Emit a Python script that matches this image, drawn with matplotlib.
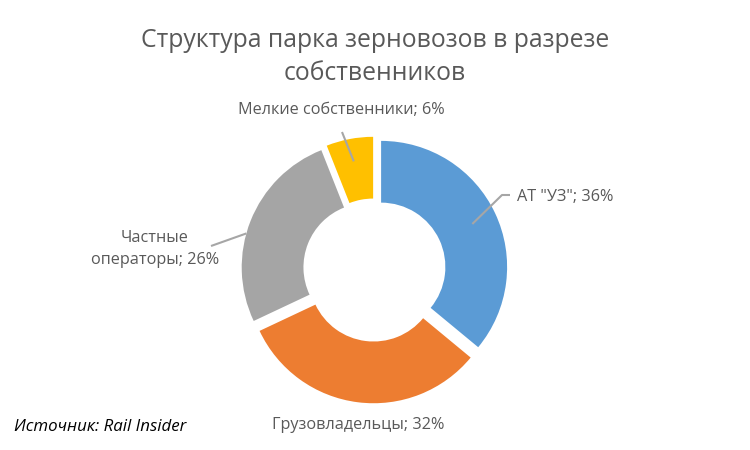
import matplotlib
matplotlib.use("Agg")
import matplotlib.pyplot as plt
import numpy as np

plt.rcParams['font.family'] = ['Open Sans', 'DejaVu Sans']

categories = ['АТ "УЗ"', 'Грузовладельцы', 'Частные\nоператоры', 'Мелкие собственники']
values = [36, 32, 26, 6]
colors = ['#5B9BD5', '#ED7D31', '#A5A5A5', '#FFC000']
title = 'Структура парка зерновозов в разрезе\nсобственников'
source = 'Источник: Rail Insider'

W, H = 750, 450
fig = plt.figure(figsize=(7.5, 4.5), dpi=100)
ax = fig.add_axes([0, 0, 1, 1])

cx, cy, R = 374.5, 180, 126
gap = 7.3
wedges, _ = ax.pie(values, colors=colors, startangle=90, counterclock=False,
                   radius=R, center=(cx, cy), explode=[gap] * len(values),
                   wedgeprops=dict(width=R * 0.49, linewidth=0),
                   frame=True)
ax.set_xlim(0, W)
ax.set_ylim(0, H)
ax.set_aspect('equal')
ax.axis('off')

text_col = '#595959'
line_col = '#A6A6A6'

# label layout: (label x, label y, ha, leader points, radius factor, angle offset)
layout = [
    (517, 253, 'left', [(510, 255), (502, 255)], 0.80, 0),
    (358, 25, 'center', None, None, 0),
    (155, 201, 'center', [(211, 204)], 1.0, 6),
    (341, 340, 'center', [(342, 318)], 0.82, 0),
]

for w, cat, v, lay in zip(wedges, categories, values, layout):
    lx, ly, ha, pts, rf, aoff = lay
    ax.text(lx, ly, f'{cat}; {v}%', ha=ha, va='center', fontsize=11.7,
            color=text_col, linespacing=1.5)
    if pts is not None:
        ang = np.deg2rad((w.theta1 + w.theta2) / 2 + aoff)
        c = w.center
        ax0 = c[0] + rf * R * np.cos(ang)
        ay0 = c[1] + rf * R * np.sin(ang)
        xs = [ax0] + [p[0] for p in pts[::-1]]
        ys = [ay0] + [p[1] for p in pts[::-1]]
        ax.plot(xs, ys, color=line_col, lw=1.5, solid_capstyle='butt')

ax.text(W / 2, H - 57, title, ha='center', va='center', fontsize=17.8,
        color=text_col, linespacing=1.42)
ax.text(14, H - 427, source, ha='left', va='center', fontsize=12.2,
        style='italic', color='black')

fig.savefig('out.png', dpi=100)
